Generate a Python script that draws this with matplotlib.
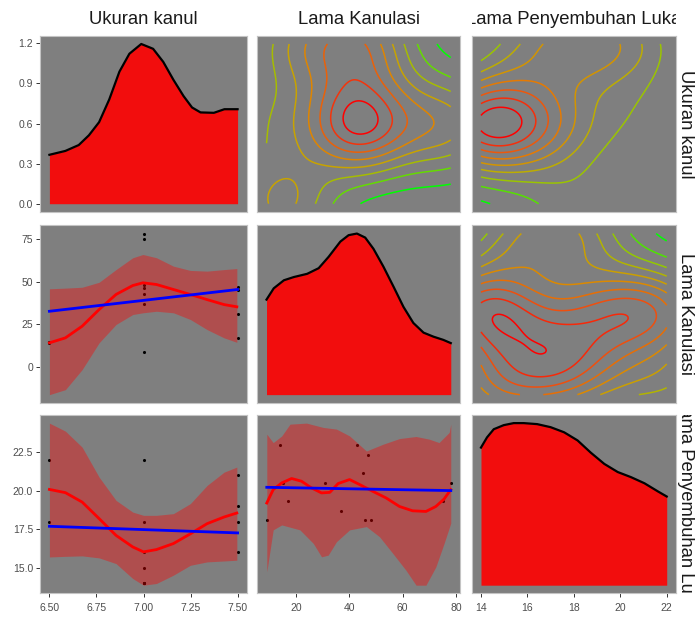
import numpy as np
import matplotlib
matplotlib.use("Agg")
import matplotlib.pyplot as plt
from matplotlib.colors import LinearSegmentedColormap, Normalize
from matplotlib.ticker import FormatStrFormatter, MaxNLocator

plt.rcParams["font.family"] = ["Liberation Sans", "DejaVu Sans"]

variables = ["Ukuran kanul", "Lama Kanulasi", "Lama Penyembuhan Luka"]

# observations (one entry per patient)
ukuran = [6.5, 6.5, 7.0, 7.0, 7.0, 7.0, 7.0, 7.0, 7.0, 7.5, 7.5, 7.5, 7.5]
lama = [14, 15, 9, 37, 43, 46, 48, 75, 78, 17, 31, 45, 47]
peny = [22, 18, 14, 15, 22, 14, 14, 16, 18, 16, 18, 19, 21]

# diagonal densities
dens1_x = [6.50, 6.585, 6.656, 6.71, 6.764, 6.818, 6.872, 6.925, 6.988, 7.051,
           7.105, 7.159, 7.213, 7.258, 7.303, 7.374, 7.43, 7.50]
dens1_y = [0.366, 0.395, 0.439, 0.512, 0.61, 0.78, 0.988, 1.122, 1.195, 1.159,
           1.061, 0.927, 0.805, 0.72, 0.683, 0.68, 0.707, 0.707]
dens2_x = [8.8, 11.5, 15.3, 19.0, 24.0, 28.3, 32.0, 36.4, 39.5, 42.6, 45.7,
           48.8, 52.5, 56.3, 60.0, 63.7, 67.5, 71.2, 74.9, 77.7]
dens2_y = [0.0118, 0.0132, 0.0142, 0.0146, 0.0150, 0.0157, 0.0171, 0.0190,
           0.0198, 0.0200, 0.0195, 0.0181, 0.0159, 0.0134, 0.0109, 0.0089,
           0.0077, 0.0072, 0.0068, 0.0064]
dens3_x = [14.0, 14.26, 14.55, 14.98, 15.41, 15.84, 16.42, 17.0, 17.58, 18.16,
           18.73, 19.31, 19.89, 20.46, 21.04, 21.62, 22.0]
dens3_y = [0.135, 0.145, 0.153, 0.157, 0.159, 0.159, 0.158, 0.155, 0.150,
           0.142, 0.130, 0.119, 0.111, 0.106, 0.100, 0.092, 0.087]

# loess + lm, Lama Kanulasi ~ Ukuran kanul
sm_a_x = [6.50, 6.585, 6.674, 6.764, 6.854, 6.943, 6.997, 7.069, 7.159, 7.249,
          7.338, 7.428, 7.496]
sm_a_fit = [14.3, 17.2, 24.0, 33.7, 42.5, 47.7, 49.3, 48.3, 45.4, 42.5, 39.5,
            36.6, 35.3]
sm_a_hi = [45.8, 46.2, 46.7, 49.6, 57.0, 63.9, 65.8, 63.9, 59.0, 56.5, 56.1,
           57.0, 57.6]
sm_a_lo = [-15.9, -13.0, -1.3, 14.3, 25.0, 30.8, 31.8, 32.7, 31.8, 27.9, 22.0,
           17.2, 14.6]
lm_a_x = [6.5, 7.5]
lm_a_y = [32.7, 45.4]

# loess + lm, Lama Penyembuhan Luka ~ Ukuran kanul
sm_b_x = [6.50, 6.585, 6.674, 6.764, 6.854, 6.943, 7.0, 7.069, 7.159, 7.249,
          7.338, 7.428, 7.496]
sm_b_fit = [20.08, 19.87, 19.26, 18.19, 17.1, 16.35, 16.03, 16.18, 16.57,
            17.2, 17.86, 18.29, 18.55]
sm_b_hi = [24.38, 23.86, 22.82, 20.88, 19.37, 18.61, 18.4, 18.4, 18.51, 19.16,
           20.34, 21.2, 21.53]
sm_b_lo = [15.7, 15.74, 15.77, 15.64, 15.27, 14.3, 13.87, 13.98, 14.52, 15.16,
           15.38, 15.44, 15.49]
lm_b_x = [6.5, 7.5]
lm_b_y = [17.69, 17.26]

# loess + lm, Lama Penyembuhan Luka ~ Lama Kanulasi (own y scale)
sm_c_x = [9.1, 11.5, 14.7, 18.4, 22.1, 25.8, 29.6, 32.7, 35.8, 40.1, 43.9,
          48.8, 53.8, 58.8, 63.7, 68.7, 72.4, 75.5, 78.0]
sm_c_fit = [15.83, 17.26, 17.98, 18.45, 18.16, 17.45, 16.91, 16.97, 17.91,
            18.34, 17.8, 17.08, 16.37, 15.46, 15.0, 14.93, 15.46, 16.26, 17.26]
band_c_hi_x = [9.1, 11.5, 14.7, 17.8, 24.0, 30.2, 35.2, 40.1, 46.4, 52.6, 58.8,
               65.0, 70.0, 73.6, 77.4, 78.0]
band_c_hi = [23.19, 22.29, 23.0, 24.26, 24.37, 23.91, 23.73, 23.0, 21.39,
             22.11, 22.72, 22.94, 22.65, 22.29, 23.37, 24.26]
band_c_lo_x = [9.1, 11.5, 14.7, 21.5, 26.5, 29.6, 32.1, 35.2, 40.1, 46.4, 51.3,
               56.3, 61.2, 65.0, 68.7, 72.4, 75.5, 78.0]
band_c_lo = [8.46, 12.96, 13.49, 12.96, 11.52, 10.08, 10.26, 11.7, 12.96,
             13.31, 12.23, 10.44, 8.65, 7.05, 7.05, 9.0, 11.52, 13.68]
lm_c_x = [9.1, 78.0]
lm_c_y = [17.51, 17.16]

W, H = 699, 621
col_px = [(40, 247), (257.3, 460), (471.7, 676)]
row_px = [(36, 211.7), (225.5, 402.7), (415, 593.3)]

PANEL = "#7F7F7F"
contour_cmap = LinearSegmentedColormap.from_list(
    "gr", ["#00FF00", "#8FCC00", "#C4A800", "#E38000", "#F04A10", "#FF0000"])


def expand(*arrs):
    v = np.concatenate([np.asarray(a, float) for a in arrs])
    lo, hi = v.min(), v.max()
    pad = 0.05 * (hi - lo)
    return lo - pad, hi + pad


def bw_nrd(v):
    q75, q25 = np.percentile(v, [75, 25])
    return 4 * 1.06 * min(np.std(v, ddof=1), (q75 - q25) / 1.34) * len(v) ** -0.2


def kde2d(x, y, n=100):
    # same as MASS::kde2d used by stat_density2d
    x = np.asarray(x, float)
    y = np.asarray(y, float)
    hx, hy = bw_nrd(x) / 4, bw_nrd(y) / 4
    gx = np.linspace(x.min(), x.max(), n)
    gy = np.linspace(y.min(), y.max(), n)
    kx = np.exp(-0.5 * ((gx[:, None] - x[None, :]) / hx) ** 2) / np.sqrt(2 * np.pi)
    ky = np.exp(-0.5 * ((gy[:, None] - y[None, :]) / hy) ** 2) / np.sqrt(2 * np.pi)
    z = kx @ ky.T / (len(x) * hx * hy)
    return gx, gy, z.T


def panel(r, c):
    l, rr = col_px[c]
    t, b = row_px[r]
    ax = fig.add_axes([l / W, 1 - b / H, (rr - l) / W, (b - t) / H])
    ax.set_facecolor(PANEL)
    for s in ax.spines.values():
        s.set_color("#C4C4C4")
        s.set_linewidth(0.8)
    ax.tick_params(length=3, width=0.7, color="#333333", labelsize=7.5,
                   labelcolor="#4D4D4D")
    ax.tick_params(axis="x", pad=4)
    ax.tick_params(axis="y", pad=2)
    ax.set_xticks([])
    ax.set_yticks([])
    return ax


def density(ax, x, y):
    ax.fill_between(x, 0, y, color="#F20D0D", lw=0)
    ax.plot(x, y, color="black", lw=1.6)
    ax.set_xlim(expand(x))
    ax.set_ylim(expand(y, [0]))


def contours(ax, x, y):
    gx, gy, z = kde2d(x, y)
    lv = MaxNLocator(10).tick_values(z.min(), z.max())
    lv = lv[(lv > z.min()) & (lv < z.max())]
    norm = Normalize(lv.min(), lv.max())
    ax.contour(gx, gy, z, levels=lv, colors=[contour_cmap(norm(v)) for v in lv],
               linewidths=1.1)
    ax.set_xlim(expand(x))
    ax.set_ylim(expand(y))


def smooth(ax, px, py, sx, fit, hx, hi, lx, lo, lmx, lmy):
    # points first, then ribbon and lines on top (ggplot layer order)
    ax.scatter(px, py, s=5, color="black", zorder=1, lw=0)
    grid = sorted(set(sx) | set(hx) | set(lx))
    ax.fill_between(grid, np.interp(grid, lx, lo), np.interp(grid, hx, hi),
                    color="red", alpha=0.38, lw=0, zorder=2)
    ax.plot(sx, fit, color="red", lw=2.0, zorder=3)
    ax.plot(lmx, lmy, color="blue", lw=2.0, zorder=3)
    ax.set_xlim(expand(px, sx))
    ax.set_ylim(expand(py, lo, hi))


fig = plt.figure(figsize=(W / 100, H / 100), dpi=100)

ax11 = panel(0, 0)
density(ax11, dens1_x, dens1_y)
ax11.set_xlim(expand(ukuran))
ax11.set_yticks([0.0, 0.3, 0.6, 0.9, 1.2])
ax11.yaxis.set_major_formatter(FormatStrFormatter("%.1f"))

ax12 = panel(0, 1)
contours(ax12, lama, ukuran)
ax13 = panel(0, 2)
contours(ax13, peny, ukuran)

ax21 = panel(1, 0)
smooth(ax21, ukuran, lama, sm_a_x, sm_a_fit, sm_a_x, sm_a_hi, sm_a_x, sm_a_lo,
       lm_a_x, lm_a_y)
ax21.set_yticks([0, 25, 50, 75])

ax22 = panel(1, 1)
density(ax22, dens2_x, dens2_y)
ax23 = panel(1, 2)
contours(ax23, peny, lama)

ax31 = panel(2, 0)
smooth(ax31, ukuran, peny, sm_b_x, sm_b_fit, sm_b_x, sm_b_hi, sm_b_x, sm_b_lo,
       lm_b_x, lm_b_y)
ax31.set_yticks([15.0, 17.5, 20.0, 22.5])
ax31.yaxis.set_major_formatter(FormatStrFormatter("%.1f"))
ax31.set_xticks([6.5, 6.75, 7.0, 7.25, 7.5])
ax31.xaxis.set_major_formatter(FormatStrFormatter("%.2f"))

ax32 = panel(2, 1)
smooth(ax32, lama, peny, sm_c_x, sm_c_fit, band_c_hi_x, band_c_hi,
       band_c_lo_x, band_c_lo, lm_c_x, lm_c_y)
ax32.set_xticks([20, 40, 60, 80])

ax33 = panel(2, 2)
density(ax33, dens3_x, dens3_y)
ax33.set_xticks([14, 16, 18, 20, 22])

# strip labels (clipped to the panel width like ggplot strips)
for c, name in enumerate(variables):
    l, rr = col_px[c]
    sa = fig.add_axes([l / W, 1 - 34 / H, (rr - l) / W, 34 / H])
    sa.axis("off")
    t = sa.text(0.5, 0.42, name, ha="center", va="center", fontsize=13.3,
                color="#1A1A1A", transform=sa.transAxes, clip_on=True)
    t.set_clip_box(sa.bbox)
for r, name in enumerate(variables):
    t0, b0 = row_px[r]
    sa = fig.add_axes([677 / W, 1 - b0 / H, 22 / W, (b0 - t0) / H])
    sa.axis("off")
    t = sa.text(0.4, 0.5, name, ha="center", va="center", fontsize=13.3,
                rotation=270, color="#1A1A1A", transform=sa.transAxes,
                clip_on=True)
    t.set_clip_box(sa.bbox)

fig.savefig("out.png", dpi=100)
